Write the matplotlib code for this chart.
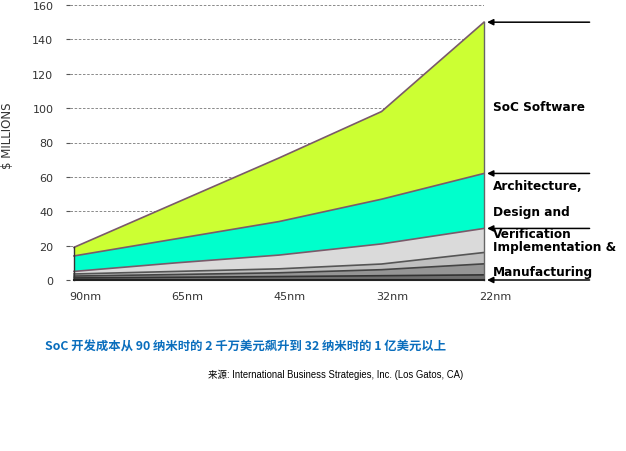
import matplotlib
matplotlib.use('Agg')
import matplotlib.pyplot as plt
import matplotlib.transforms as mtransforms
import numpy as np

# -- DATA -- #
nodes = ['90nm', '65nm', '45nm', '32nm', '22nm']
# cumulative tops of each band, bottom to top ($ millions)
top_base = [1.2, 1.6, 2.0, 2.5, 3.0]
top_mask = [2.3, 3.2, 4.2, 6.0, 9.4]
top_manuf = [3.5, 5.0, 6.5, 9.3, 16.0]
top_impl = [5.0, 10.0, 14.5, 21.0, 30.0]
top_arch = [14.0, 24.0, 34.0, 47.0, 62.0]
top_soft = [19.0, 45.0, 71.0, 98.0, 150.0]

yticks = [0, 20, 40, 60, 80, 100, 120, 140, 160]

bands = [top_base, top_mask, top_manuf, top_impl, top_arch, top_soft]
colors = ['#6e6e6e', '#959595', '#c0c0c0', '#dadada', '#00ffcc', '#ccff33']
edges = ['#333333', '#444444', '#555555', '#7a5a6a', '#7a5a6a', '#7a5a6a']

plt.rcParams['font.family'] = ['DejaVu Sans']

W, H = 626, 452
fig = plt.figure(figsize=(W / 100, H / 100), dpi=100)
# axes placed in pixels: left 70, right 484, bottom at y=281, top at y=6
ax = fig.add_axes([70 / W, (H - 281) / H, 414 / W, 275 / H])

x = np.arange(len(nodes))
lower = np.zeros(len(nodes))
for top, c, e in zip(bands, colors, edges):
    top = np.array(top)
    ax.fill_between(x, lower, top, facecolor=c, edgecolor='none', zorder=2)
    ax.plot(x, top, color=e, lw=1.2, zorder=3, clip_on=False)
    lower = top
ax.plot([0, 0], [0, top_soft[0]], color='#333333', lw=1, zorder=3, clip_on=False)
ax.plot([4, 4], [0, top_soft[-1]], color='#666666', lw=1, zorder=3, clip_on=False)
ax.plot(x, np.zeros(len(nodes)), color='#222222', lw=1.5, zorder=3, clip_on=False)

ax.set_xlim(-4 / 102.5, 4)
ax.set_ylim(0, 160)
ax.set_yticks(yticks)
ax.set_yticklabels([str(v) for v in yticks], fontsize=8, color='#333333')
ax.tick_params(axis='y', length=3, pad=9, color='#555555')
ax.set_xticks(x)
ax.set_xticklabels(nodes, fontsize=8, color='#333333')
ax.tick_params(axis='x', length=0, pad=8)
offset = mtransforms.ScaledTranslation(11 / 100, 0, fig.dpi_scale_trans)
for lbl in ax.get_xticklabels():
    lbl.set_transform(lbl.get_transform() + offset)

ax.grid(axis='y', linestyle=(0, (3, 2)), color='#777777', lw=0.6, zorder=1)
for s in ax.spines.values():
    s.set_visible(False)

fig.text(8 / W, 1 - 136 / H, '$ MILLIONS', rotation=90, fontsize=8.5,
         color='#333333', ha='center', va='center')

# arrows + labels on the right
for yv in [top_soft[-1], top_arch[-1], top_impl[-1], 0]:
    ax.annotate('', xy=(4.03, yv), xytext=(5.03, yv), annotation_clip=False,
                arrowprops=dict(arrowstyle='-|>', color='black', lw=1.1,
                                mutation_scale=9, shrinkA=0, shrinkB=0))

labels = [('SoC Software', 101), ('Architecture,', 54.7), ('Design and', 40),
          ('Verification', 27.3), ('Implementation &', 19.2), ('Manufacturing', 5.2)]
for txt, yv in labels:
    ax.text(4.09, yv, txt, fontsize=8.7, fontweight='bold', ha='left',
            va='center', clip_on=False)

fig.text(45 / W, 1 - 347 / H,
         'SoC 开发成本从 90 纳米时的 2 千万美元飙升到 32 纳米时的 1 亿美元以上',
         fontsize=8.9, fontweight='bold', color='#0a6ebd', ha='left', va='center',
         family=['Noto Sans CJK SC', 'DejaVu Sans'])
fig.text(208 / W, 1 - 375 / H,
         '来源: International Business Strategies, Inc. (Los Gatos, CA)',
         fontsize=6.85, color='black', ha='left', va='center',
         family=['Liberation Sans', 'Noto Sans CJK SC'])

fig.savefig('out.png', dpi=100, facecolor='white')
